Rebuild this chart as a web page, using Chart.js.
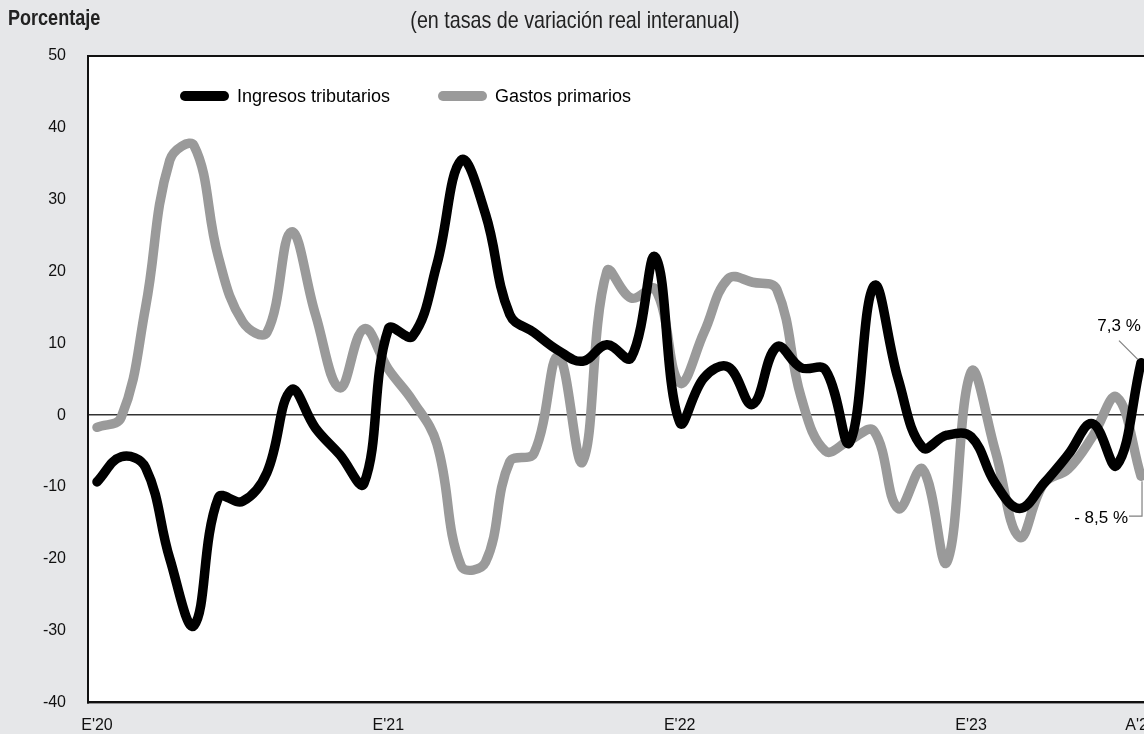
<!DOCTYPE html>
<html>
<head>
<meta charset="utf-8">
<script src="https://cdn.jsdelivr.net/npm/chart.js@4/dist/chart.umd.min.js"></script>
<style>
  html, body { margin: 0; padding: 0; width: 1144px; height: 734px; overflow: hidden; background: #e6e7e9; }
  #wrap { position: absolute; left: 0; top: 0; width: 1200px; height: 734px; }
  #ytitle { position: absolute; left: 8px; top: 5px; font: bold 22px "Liberation Sans", Arial, sans-serif; color: #222; transform: scaleX(0.82); transform-origin: 0 0; white-space: nowrap; }
  #subtitle { position: absolute; left: 0; width: 1150px; top: 6px; text-align: center; font: 24px "Liberation Sans", Arial, sans-serif; color: #222; transform: scaleX(0.82); transform-origin: 575px 0; white-space: nowrap; }
</style>
</head>
<body>
<div id="wrap"><canvas id="c" width="1200" height="734"></canvas></div>
<div id="ytitle">Porcentaje</div>
<div id="subtitle">(en tasas de variación real interanual)</div>
<script>
// Monthly series, Jan 2020 – Aug 2023 (real year-on-year % change)
const months = ["2020-01","2020-02","2020-03","2020-04","2020-05","2020-06","2020-07","2020-08","2020-09","2020-10","2020-11","2020-12",
  "2021-01","2021-02","2021-03","2021-04","2021-05","2021-06","2021-07","2021-08","2021-09","2021-10","2021-11","2021-12",
  "2022-01","2022-02","2022-03","2022-04","2022-05","2022-06","2022-07","2022-08","2022-09","2022-10","2022-11","2022-12",
  "2023-01","2023-02","2023-03","2023-04","2023-05","2023-06","2023-07","2023-08"];
const ingresosTributarios = [-9.3, -5.8, -7.3, -20, -29.3, -11.5, -12, -8, 3.5, -1.8, -5.5, -9.5,
  12, 11, 21, 35.5, 28, 14, 11.5, 9, 7.5, 9.8, 8, 22,
  -1, 5.2, 6.7, 1.5, 9.5, 6.6, 6.3, -3.8, 18, 5, -4.5, -2.8,
  -3, -9.5, -13, -9.5, -5.5, -1.2, -7, 7.3];
const gastosPrimarios = [-1.7, -0.3, 15, 35.5, 37.5, 22, 13, 11.5, 25.5, 14, 3.8, 12,
  6.4, 2, -4, -21, -20.5, -6.5, -5.3, 8.2, -6.5, 20, 16.3, 17.5,
  4.5, 11.5, 19, 18.5, 17.5, 2.5, -5, -3.5, -2.2, -13, -7.5, -20.5,
  6, -5, -17, -9.5, -7.5, -3, 2.5, -8.5];
const seriesNames = ["Ingresos tributarios", "Gastos primarios"];
const xTickIndex = [0, 12, 24, 36, 43];
const xTickLabels = ["E'20", "E'21", "E'22", "E'23", "A'23"];
const yTicks = [-40, -30, -20, -10, 0, 10, 20, 30, 40, 50];
const lastLabels = ["7,3 %", "- 8,5 %"];

const regular = '"Liberation Sans", Arial, sans-serif';
const BLACK = '#000000', GRAY = '#9a9a9a';

const toXY = arr => arr.map((v, i) => ({ x: i, y: v }));

const frame = {
  id: 'frame',
  beforeDraw(chart) {
    const a = chart.chartArea, c = chart.ctx;
    c.save(); c.fillStyle = '#ffffff';
    c.fillRect(a.left, a.top, a.right - a.left, a.bottom - a.top);
    c.restore();
  },
  afterDraw(chart) {
    const a = chart.chartArea, c = chart.ctx;
    c.save();
    c.strokeStyle = '#111'; c.lineWidth = 2;
    c.strokeRect(a.left, a.top, a.right - a.left, a.bottom - a.top);
    // legend inside plot
    const items = [[seriesNames[0], BLACK, a.left + 92], [seriesNames[1], GRAY, a.left + 350]];
    const ly = a.top + 40;
    c.lineCap = 'round'; c.lineWidth = 10;
    c.font = '18px ' + regular; c.textBaseline = 'middle'; c.fillStyle = '#000';
    items.forEach(([t, col, x]) => {
      c.strokeStyle = col;
      c.beginPath(); c.moveTo(x + 5, ly); c.lineTo(x + 44, ly); c.stroke();
      c.fillText(t, x + 57, ly + 1);
    });
    // end-value labels
    const m0 = chart.getDatasetMeta(0).data, m1 = chart.getDatasetMeta(1).data;
    const p0 = m0[m0.length - 1], p1 = m1[m1.length - 1];
    c.lineCap = 'butt'; c.lineWidth = 1.2; c.strokeStyle = '#808080';
    c.font = '17px ' + regular; c.fillStyle = '#000';
    c.textAlign = 'center';
    c.fillText(lastLabels[0], p0.x - 22, p0.y - 36);
    c.beginPath(); c.moveTo(p0.x - 22, p0.y - 22); c.lineTo(p0.x - 3, p0.y - 3); c.stroke();
    c.textAlign = 'right';
    c.fillText(lastLabels[1], p1.x - 13, p1.y + 42);
    c.beginPath(); c.moveTo(p1.x - 12, p1.y + 40); c.lineTo(p1.x + 1, p1.y + 40); c.lineTo(p1.x + 1, p1.y + 5); c.stroke();
    c.restore();
  }
};

new Chart(document.getElementById('c'), {
  type: 'line',
  data: {
    datasets: [
      { label: seriesNames[0], data: toXY(ingresosTributarios), borderColor: BLACK, borderWidth: 9.5, tension: 0.4, pointRadius: 0, fill: false, borderCapStyle: 'round', borderJoinStyle: 'round' },
      { label: seriesNames[1], data: toXY(gastosPrimarios), borderColor: GRAY, borderWidth: 9.5, tension: 0.4, pointRadius: 0, fill: false, borderCapStyle: 'round', borderJoinStyle: 'round' }
    ]
  },
  options: {
    responsive: false,
    animation: false,
    events: [],
    layout: { padding: { top: 56, right: 50, left: 0, bottom: 0 } },
    plugins: { legend: { display: false }, tooltip: { enabled: false }, title: { display: false } },
    scales: {
      x: {
        type: 'linear', min: -0.37, max: 43.37,
        afterBuildTicks: s => { s.ticks = xTickIndex.map(v => ({ value: v })); },
        afterFit: s => { s.height = 30; },
        grid: { display: false, drawTicks: false },
        border: { display: true, color: '#111', width: 2 },
        ticks: {
          autoSkip: false, maxRotation: 0, padding: 14, color: '#111',
          font: { family: regular, size: 16 },
          callback: v => { const k = xTickIndex.indexOf(v); return k >= 0 ? xTickLabels[k] : ''; }
        }
      },
      y: {
        min: -40, max: 50,
        afterBuildTicks: s => { s.ticks = yTicks.map(v => ({ value: v })); },
        afterFit: s => { s.width = 88; },
        grid: { drawTicks: false, color: c => c.tick && c.tick.value === 0 ? '#333' : 'rgba(0,0,0,0)', lineWidth: 1.5 },
        border: { display: true, color: '#111', width: 2 },
        ticks: { padding: 22, color: '#111', font: { family: regular, size: 16 } }
      }
    }
  },
  plugins: [frame]
});
</script>
</body>
</html>
